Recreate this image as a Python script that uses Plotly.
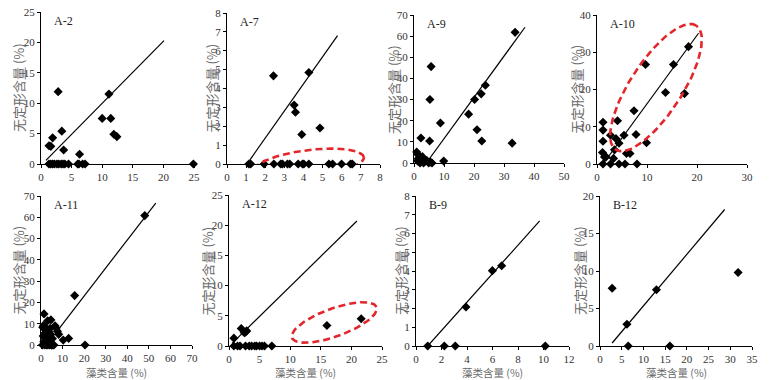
import numpy as np
import plotly.graph_objects as go
from plotly.subplots import make_subplots

# ── Data ──────────────────────────────────────────────────────────────────────
A2_X = [1.3, 1.6, 1.9, 2.8, 3.4, 3.7, 6.3, 10.0, 11.1, 11.4, 11.9, 12.4, 24.9,
        1.3, 1.6, 1.9, 2.2, 2.6, 2.9, 3.3, 3.6, 3.9, 4.5, 6.0, 6.2, 6.8, 7.2]
A2_Y = [3.0, 2.9, 4.3, 11.9, 5.4, 2.3, 1.6, 7.5, 11.5, 7.5, 4.9, 4.5, 0,
        0, 0, 0, 0, 0, 0, 0, 0, 0, 0, 0, 0, 0, 0]
A2_LINE_X = [0.8, 20.1]
A2_LINE_Y = [0.6, 20.3]

A7_X = [2.43, 4.28, 3.51, 3.58, 3.91, 4.86,
        1.14, 1.24, 1.94, 2.45, 2.81, 2.90, 3.16, 3.28, 3.72, 3.95, 4.02,
        4.28, 5.33, 5.52, 5.99, 6.46, 6.55]
A7_Y = [4.67, 4.85, 3.12, 2.74, 1.56, 1.91,
        0, 0, 0, 0, 0, 0, 0, 0, 0, 0, 0, 0, 0, 0, 0, 0, 0]
A7_LINE_X = [1.19, 5.78]
A7_LINE_Y = [0.21, 6.80]

A9_X = [33.7, 5.7, 5.3, 5.2, 2.3, 8.8, 9.9, 18.2, 20.2, 22.4, 23.8, 21.0, 22.6,
        32.7, 0.9, 1.3, 1.6, 1.2, 2.0, 2.8, 3.2, 4.3, 4.9, 5.5, 6.0, 1.4]
A9_Y = [61.8, 45.6, 30.0, 10.4, 11.8, 18.9, 0.9, 23.1, 30.0, 32.7, 36.8, 15.7, 10.4,
        9.4, 5.2, 4.0, 2.3, 1.0, 0, 3.0, 0, 1.2, 0, 0.5, 0, 2.0]
A9_LINE_X = [4.1, 37.0]
A9_LINE_Y = [0, 64.2]

A10_X = [18.3, 9.7, 15.3, 13.7, 17.5, 7.4, 7.8, 9.9, 1.2, 1.2, 1.2, 1.1, 1.5,
         1.8, 2.7, 4.1, 3.8, 4.4, 5.4, 3.5, 3.3, 5.9, 6.6,
         1.2, 2.7, 4.4, 5.6, 8.0]
A10_Y = [31.5, 26.7, 26.7, 19.2, 18.9, 14.3, 7.9, 5.7, 11.2, 9.1, 6.1, 3.1, 1.9,
         1.9, 7.7, 11.6, 6.8, 5.6, 7.7, 3.8, 1.5, 2.8, 2.8,
         0, 0, 0, 0, 0]
A10_LINE_X = [1.2, 20.3]
A10_LINE_Y = [0, 35.1]

A11_X = [48.1, 15.6, 12.8, 10.3, 20.4, 1.4, 3.1, 4.6, 1.2, 0.8, 1.8, 2.4, 3.0,
         3.6, 4.2, 2.0, 2.6, 3.3, 1.0, 1.5, 2.2, 2.9, 3.8, 4.6, 5.3, 6.5, 7.0,
         7.6, 8.2, 1.3, 2.1, 2.8, 3.5, 4.4, 5.0, 0.7, 1.7, 2.5, 3.2, 4.0, 4.8,
         5.5, 2.3, 3.9, 6.0]
A11_Y = [60.8, 23.2, 3.1, 2.3, 0, 14.6, 11.4, 11.8, 9.2, 8.3, 8.0, 7.5, 6.8,
         6.2, 7.8, 5.7, 5.0, 4.5, 4.2, 3.5, 3.0, 2.6, 3.6, 4.9, 3.0, 9.0, 8.0,
         6.5, 5.0, 1.5, 1.8, 1.0, 0.5, 1.2, 0, 0, 0, 0, 0, 0, 0,
         0, 2.2, 2.0, 0]
A11_LINE_X = [8.2, 53.2]
A11_LINE_Y = [7.5, 66.7]

A12_X = [0.8, 2.0, 2.7, 2.9, 2.5, 16.0, 21.6,
         0.8, 1.4, 1.8, 2.7, 3.3, 3.7, 4.2, 4.5, 5.0, 5.4, 5.8, 7.0]
A12_Y = [1.3, 2.9, 2.3, 2.5, 2.2, 3.4, 4.5,
         0, 0, 0, 0, 0, 0, 0, 0, 0, 0, 0, 0]
A12_LINE_X = [0.5, 20.9]
A12_LINE_Y = [0.44, 20.7]

B9_X = [3.92, 5.99, 6.72, 0.92, 2.22, 3.08, 10.14]
B9_Y = [2.08, 4.02, 4.28, 0, 0, 0, 0]
B9_LINE_X = [0.92, 9.7]
B9_LINE_Y = [0, 6.67]

B12_X = [2.8, 6.2, 13.0, 31.8, 6.5, 16.1]
B12_Y = [7.7, 2.9, 7.5, 9.8, 0, 0]
B12_LINE_X = [2.8, 28.7]
B12_LINE_Y = [0.4, 18.2]

# ── Styling ───────────────────────────────────────────────────────────────────
W, H = 779, 380
C_TEXT = "#333333"
C_TITLE = "#6a6a6a"
C_RED = "#e3262b"
SERIF = "Liberation Serif, Times New Roman, serif"
CJK = "Noto Sans CJK SC"
Y_TITLE = "无定形含量 (%)"
X_TITLE = "藻类含量 (%)"

# label, x, y, fit line, x-range/dtick, y-range/dtick,
# plot box in px (x0, x1, ytop, ybot), y-title distance from axis
panels = [
    ("A-2",  A2_X,  A2_Y,  A2_LINE_X,  A2_LINE_Y,  25, 5, 25, 5,  (41, 194, 12, 164), 23),
    ("A-7",  A7_X,  A7_Y,  A7_LINE_X,  A7_LINE_Y,  8, 1, 8, 1,    (227, 380, 13, 164), 16),
    ("A-9",  A9_X,  A9_Y,  A9_LINE_X,  A9_LINE_Y,  50, 10, 70, 10, (414, 564, 15, 163), 20),
    ("A-10", A10_X, A10_Y, A10_LINE_X, A10_LINE_Y, 30, 10, 40, 10, (597, 747, 15, 164), 21),
    ("A-11", A11_X, A11_Y, A11_LINE_X, A11_LINE_Y, 70, 10, 70, 10, (41, 192, 196, 345), 23),
    ("A-12", A12_X, A12_Y, A12_LINE_X, A12_LINE_Y, 25, 5, 25, 5,  (229, 382, 195, 346), 22),
    ("B-9",  B9_X,  B9_Y,  B9_LINE_X,  B9_LINE_Y,  12, 2, 8, 1,   (416, 569, 196, 346), 16),
    ("B-12", B12_X, B12_Y, B12_LINE_X, B12_LINE_Y, 35, 5, 20, 5,  (600, 752, 196, 346), 21),
]

# highlight ellipses: panel index -> (cx, cy in data, semi-axes in px, angle in deg)
ellipses = {
    1: (4.3, 0.0, 55, 14, 7),
    3: (11.8, 20.5, 74, 26, 57),
    5: (17.2, 3.9, 45, 14, 20),
}


def ellipse_path(cx, cy, a, b, ang, sx, sy):
    t = np.linspace(0, 2 * np.pi, 120)
    r = np.radians(ang)
    u = a * np.cos(t)
    v = b * np.sin(t)
    px = u * np.cos(r) - v * np.sin(r)
    py = u * np.sin(r) + v * np.cos(r)
    return cx + px / sx, cy + py / sy


def px_x(p):
    return p / W


def px_y(p):
    return 1 - p / H


fig = make_subplots(rows=2, cols=4)

for i, (label, xs, ys, lx, ly, xmax, xd, ymax, yd, dom, tdx) in enumerate(panels):
    row, col = i // 4 + 1, i % 4 + 1
    x0, x1, ytop, ybot = dom

    fig.add_trace(go.Scatter(
        x=lx, y=ly, mode="lines",
        line=dict(color="black", width=1.2),
        showlegend=False, hoverinfo="skip",
    ), row=row, col=col)

    fig.add_trace(go.Scatter(
        x=xs, y=ys, mode="markers",
        marker=dict(symbol="diamond", size=7, color="black"),
        cliponaxis=False, showlegend=False,
    ), row=row, col=col)

    if i in ellipses:
        cx, cy, a, b, ang = ellipses[i]
        sx = (x1 - x0) / xmax
        sy = (ybot - ytop) / ymax
        ex, ey = ellipse_path(cx, cy, a, b, ang, sx, sy)
        fig.add_trace(go.Scatter(
            x=ex, y=ey, mode="lines",
            line=dict(color=C_RED, width=2.6, dash="7px,4px"),
            cliponaxis=False, showlegend=False, hoverinfo="skip",
        ), row=row, col=col)

    fig.update_xaxes(
        domain=[px_x(x0), px_x(x1)], range=[0, xmax], dtick=xd, tick0=0,
        showline=True, linecolor="black", linewidth=1,
        ticks="outside", ticklen=3, tickcolor="black",
        showgrid=False, zeroline=False, automargin=False,
        ticklabeloverflow="allow",
        tickfont=dict(family=SERIF, size=11, color=C_TEXT),
        row=row, col=col,
    )
    fig.update_yaxes(
        domain=[px_y(ybot), px_y(ytop)], range=[0, ymax], dtick=yd, tick0=0,
        showline=True, linecolor="black", linewidth=1,
        ticks="outside", ticklen=3, tickcolor="black",
        showgrid=False, zeroline=False, automargin=False,
        ticklabeloverflow="allow",
        tickfont=dict(family=SERIF, size=11, color=C_TEXT),
        row=row, col=col,
    )

    # panel label
    fig.add_annotation(
        x=px_x(x0 + 11), y=px_y(ytop + 9), xref="paper", yref="paper",
        text=label, showarrow=False, xanchor="left", yanchor="middle",
        font=dict(family=SERIF, size=12, color="#222222"),
    )
    # y-axis title
    fig.add_annotation(
        x=px_x(x0 - tdx), y=px_y((ytop + ybot) / 2), xref="paper", yref="paper",
        text=Y_TITLE, showarrow=False, textangle=-90,
        xanchor="center", yanchor="middle",
        font=dict(family=CJK, size=13, color=C_TITLE),
    )
    # x-axis title, bottom row only
    if row == 2:
        fig.add_annotation(
            x=px_x((x0 + x1) / 2), y=px_y(372), xref="paper", yref="paper",
            text=X_TITLE, showarrow=False, xanchor="center", yanchor="middle",
            borderpad=0,
            font=dict(family=CJK, size=10.5, color=C_TITLE),
        )

fig.update_layout(
    width=W, height=H,
    margin=dict(l=0, r=0, t=0, b=0),
    paper_bgcolor="white", plot_bgcolor="white",
    showlegend=False,
)

# drop the default page margin so the figure fills the window exactly
fig.write_html(
    "out.html",
    config={"displayModeBar": False},
    post_script="document.body.style.margin = '0';",
)
